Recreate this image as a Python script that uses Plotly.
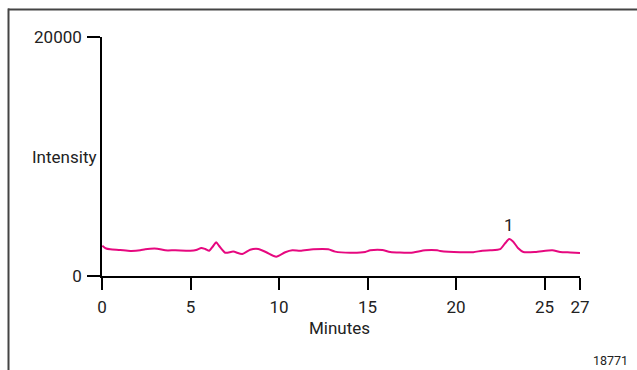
import plotly.graph_objects as go

minutes = [0.02, 0.24, 0.47, 1.03, 1.60, 2.16, 2.44, 3.12, 3.57, 4.14, 4.99, 5.32, 5.61, 5.83,
           6.06, 6.28, 6.45, 6.62, 6.96, 7.41, 7.92, 8.37, 8.83, 9.28, 9.84, 10.35, 10.75, 11.20,
           11.93, 12.78, 13.17, 14.02, 14.87, 15.15, 15.83, 16.28, 17.41, 18.26, 18.93, 19.10,
           20.23, 20.97, 21.48, 21.93, 22.49, 22.77, 23.00, 23.23, 23.51, 23.80, 24.47, 25.43,
           25.88, 26.45, 27.0]
intensity = [2540, 2300, 2240, 2180, 2100, 2150, 2240, 2290, 2150, 2150, 2120, 2180, 2350, 2260,
             2120, 2510, 2820, 2510, 1950, 2040, 1840, 2200, 2260, 1990, 1620, 1990, 2150, 2120,
             2240, 2240, 2040, 1950, 2010, 2150, 2180, 2010, 1950, 2150, 2150, 2100,
             1990, 1990, 2120, 2150, 2240, 2740, 3100, 2870, 2320, 2010, 2010, 2150,
             2010, 1970, 1930]

x_ticks = [0, 5, 10, 15, 20, 25, 27]
y_ticks = [0, 20000]
y_tick_labels = ["0", "20000"]
peak_label = "1"
peak_x = 23.0
peak_y = 3100
figure_id = "18771"

W, H = 637, 370
ML, MR, MT, MB = 102, 57, 37, 94
PW, PH = W - ML - MR, H - MT - MB

def px(xp):
    return (xp - ML) / PW

def py(yp):
    return (H - MB - yp) / PH

FONT = "Roboto, Liberation Sans Narrow, sans-serif"
TXT = "#222222"
FS = 17

fig = go.Figure()
fig.add_trace(go.Scatter(x=minutes, y=intensity, mode="lines",
                         line=dict(color="#E6087F", width=2, shape="spline", smoothing=0.6),
                         showlegend=False, hoverinfo="skip"))

fig.update_layout(
    width=W, height=H,
    margin=dict(l=ML, r=MR, t=MT, b=MB, pad=0),
    paper_bgcolor="white", plot_bgcolor="white",
    font=dict(family=FONT, size=FS, color=TXT),
    xaxis=dict(range=[0, 27], tickvals=x_ticks, showgrid=False, zeroline=False,
               showline=True, linecolor="black", linewidth=1.5,
               ticks="outside", ticklen=12, tickwidth=1.5, tickcolor="black",
               ticklabelstandoff=3,
               tickfont=dict(family=FONT, size=FS, color=TXT), fixedrange=True),
    yaxis=dict(range=[0, 20000], tickvals=y_ticks, ticktext=y_tick_labels,
               showgrid=False, zeroline=False,
               showline=True, linecolor="black", linewidth=1.5,
               ticks="outside", ticklen=13, tickwidth=1.5, tickcolor="black",
               ticklabelstandoff=2,
               tickfont=dict(family=FONT, size=FS, color=TXT), fixedrange=True),
    annotations=[
        dict(text="Intensity", xref="paper", yref="paper", x=px(64), y=py(157),
             xanchor="center", yanchor="middle", showarrow=False,
             font=dict(family=FONT, size=FS, color=TXT)),
        dict(text="Minutes", xref="paper", yref="paper", x=px(339), y=py(328),
             xanchor="center", yanchor="middle", showarrow=False,
             font=dict(family=FONT, size=FS, color=TXT)),
        dict(text=figure_id, xref="paper", yref="paper", x=px(610), y=py(360),
             xanchor="center", yanchor="middle", showarrow=False,
             font=dict(family=FONT, size=12.5, color=TXT)),
        dict(text=peak_label, x=peak_x, y=peak_y, xref="x", yref="y",
             xanchor="center", yanchor="bottom", yshift=2, showarrow=False,
             font=dict(family=FONT, size=FS, color=TXT)),
    ],
    shapes=[
        dict(type="line", xref="paper", yref="paper", x0=px(8), x1=px(637),
             y0=py(9.5), y1=py(9.5), line=dict(color="#444444", width=2)),
        dict(type="line", xref="paper", yref="paper", x0=px(8.5), x1=px(8.5),
             y0=py(8.5), y1=py(372), line=dict(color="#444444", width=2)),
    ],
)

fig.write_html("out.html")
